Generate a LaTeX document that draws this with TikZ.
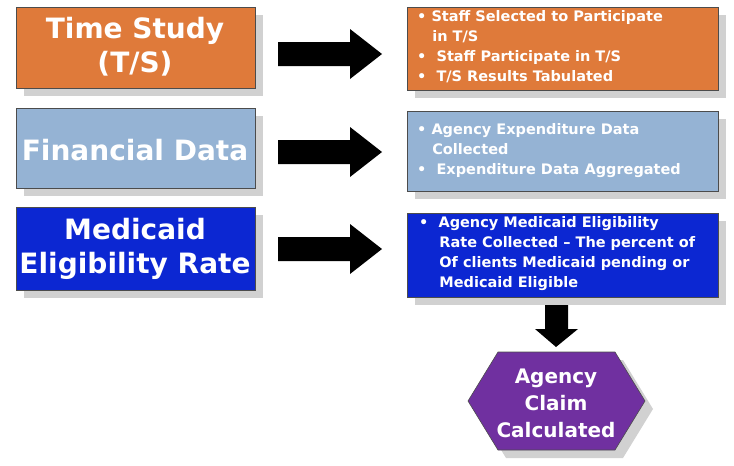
\documentclass[tikz,border=0pt]{standalone}
\usepackage{fontspec}
\setmainfont{DejaVu Sans}
\begin{document}
\begin{tikzpicture}[x=1pt,y=-1pt,
  box/.style={draw=black!70,line width=0.6pt,inner sep=0pt},
  shadow/.style={fill=black!18},
  title/.style={text=white,font=\bfseries\fontsize{28}{34}\selectfont,align=center},
  bl/.style={text=white,font=\bfseries\fontsize{14.5}{20}\selectfont,align=left,anchor=north west,inner sep=0pt}]
\useasboundingbox (0,0) rectangle (734,466);
\definecolor{org}{HTML}{DF7A3A}
\definecolor{lb}{HTML}{95B3D4}
\definecolor{db}{HTML}{0C27D2}
\definecolor{pu}{HTML}{7030A0}
% left boxes
\foreach \ya/\yb/\c in {7/88/org,108/188/lb,207/290/db}{
  \fill[shadow] (24,\ya+8) rectangle (263,\yb+8);
  \draw[box,fill=\c] (16,\ya) rectangle (255,\yb);
}
\foreach \ya/\yb/\c in {7/90/org,111/191/lb,213/297/db}{
  \fill[shadow] (415,\ya+8) rectangle (726,\yb+8);
  \draw[box,fill=\c] (407,\ya) rectangle (718,\yb);
}
\node[title] (t1) at (135,47) {Time Study\\(T/S)};
\node[title] (t2) at (135,150) {Financial Data};
\node[title] (t3) at (135,249) {Medicaid\\Eligibility Rate};
% arrows
\foreach \y in {54,152,249}{
  \fill[black] (278,\y-12) -- (350,\y-12) -- (350,\y-25) -- (382,\y) -- (350,\y+25) -- (350,\y+12) -- (278,\y+12) -- cycle;
}
\node[bl] (r1) at (417,10) {•\ Staff Selected to Participate\\\ \ \ in T/S\\•\ \ Staff Participate in T/S\\•\ \ T/S Results Tabulated};
\node[bl] (r2) at (417,123) {•\ Agency Expenditure Data\\\ \ \ Collected\\•\ \ Expenditure Data Aggregated};
\node[bl] (r3) at (419,216) {•\ \ Agency Medicaid Eligibility\\\ \ \ \ Rate Collected – The percent of\\\ \ \ \ Of clients Medicaid pending or\\\ \ \ \ Medicaid Eligible};
% down arrow
\fill[black] (545,305) -- (568,305) -- (568,329) -- (578,329) -- (556,347) -- (535,329) -- (545,329) -- cycle;
\fill[shadow] (476,409) -- (506,360) -- (623,360) -- (653,409) -- (623,458) -- (506,458) -- cycle;
\draw[box,fill=pu] (468,401) -- (498,352) -- (615,352) -- (645,401) -- (615,450) -- (498,450) -- cycle;
\node[text=white,font=\bfseries\fontsize{20}{27}\selectfont,align=center] (h) at (556,403) {Agency\\Claim\\Calculated};
\end{tikzpicture}
\end{document}
